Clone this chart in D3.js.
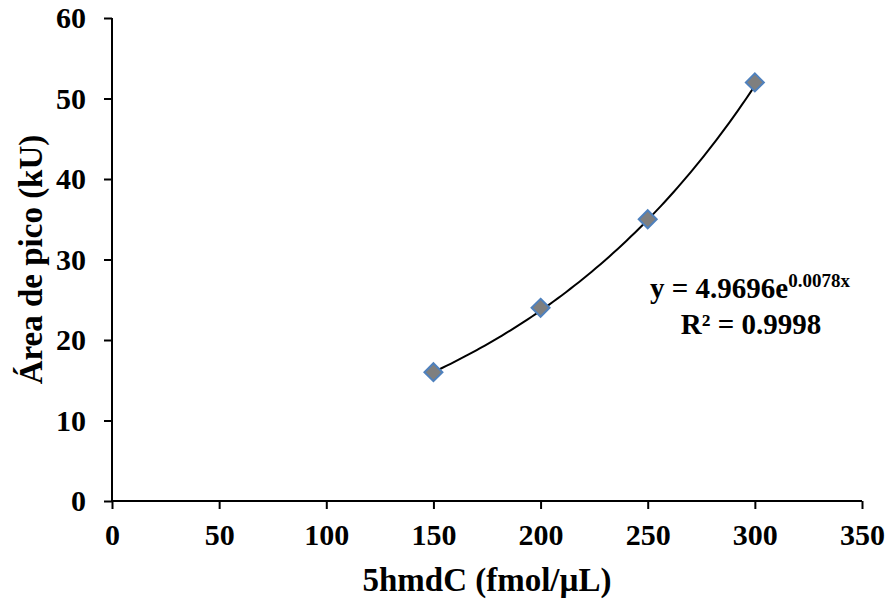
<!DOCTYPE html>
<html>
<head>
<meta charset="utf-8">
<script src="https://cdn.jsdelivr.net/npm/d3@7"></script>
<style>
  body { margin: 0; background: #fff; }
  text { font-family: "Liberation Serif", "Times New Roman", serif; font-weight: bold; }
</style>
</head>
<body>
<div id="chart"></div>
<script>
// data
var conc = [150, 200, 250, 300];
var area = [16, 24, 35, 52];
var xTicks = [0, 50, 100, 150, 200, 250, 300, 350];
var yTicks = [0, 10, 20, 30, 40, 50, 60];
// exponential trendline y = a e^(b x)
var fitA = 4.9696, fitB = 0.0078, fitR2 = "0.9998";

var width = 890, height = 604;
var margin = {top: 18, right: 28, bottom: 103, left: 112};

var svg = d3.select("#chart").append("svg")
    .attr("width", width)
    .attr("height", height);

var x = d3.scaleLinear().domain([0, 350]).range([margin.left, width - margin.right]);
var y = d3.scaleLinear().domain([0, 60]).range([height - margin.bottom, margin.top]);

// x axis
var xAxis = svg.append("g")
    .attr("transform", "translate(0," + y(0) + ")")
    .call(d3.axisBottom(x).tickValues(xTicks).tickSize(8).tickPadding(15).tickSizeOuter(0));
// y axis
var yAxis = svg.append("g")
    .attr("transform", "translate(" + x(0) + ",0)")
    .call(d3.axisLeft(y).tickValues(yTicks).tickSize(8).tickPadding(18).tickSizeOuter(0));

[xAxis, yAxis].forEach(function (g) {
    g.attr("font-size", null).attr("font-family", null);
    g.selectAll("path, line").attr("stroke", "#000").attr("stroke-width", 2);
    g.selectAll("text").attr("font-size", 30).attr("fill", "#000");
});
xAxis.select(".domain").attr("d", "M" + x(0) + ",0H" + x(350));
yAxis.select(".domain").attr("d", "M0," + y(60) + "V" + y(0));

// trendline
var fitX = d3.range(150, 300.01, 2);
svg.append("path")
    .datum(fitX)
    .attr("fill", "none")
    .attr("stroke", "#000")
    .attr("stroke-width", 2)
    .attr("d", d3.line()
        .x(d => x(d))
        .y(d => y(fitA * Math.exp(fitB * d))));

// markers
svg.selectAll(".pt")
    .data(conc)
    .enter().append("path")
    .attr("class", "pt")
    .attr("transform", (d, i) => "translate(" + x(d) + "," + y(area[i]) + ")")
    .attr("d", "M0,-9L9,0L0,9L-9,0Z")
    .attr("fill", "#7f7f7f")
    .attr("stroke", "#4f81bd")
    .attr("stroke-width", 2);

// equation
var eq = svg.append("text")
    .attr("x", 750)
    .attr("y", 298)
    .attr("text-anchor", "middle")
    .attr("font-size", 29);
eq.append("tspan").text("y = " + fitA + "e");
eq.append("tspan").attr("font-size", 19).attr("dy", -11).text(fitB + "x");
svg.append("text")
    .attr("x", 751)
    .attr("y", 334)
    .attr("text-anchor", "middle")
    .attr("font-size", 29)
    .text("R² = " + fitR2);

// axis titles
svg.append("text")
    .attr("x", (x(0) + x(350)) / 2)
    .attr("y", 591)
    .attr("text-anchor", "middle")
    .attr("font-size", 33)
    .text("5hmdC (fmol/µL)");
svg.append("text")
    .attr("transform", "translate(42," + (y(30)) + ") rotate(-90)")
    .attr("text-anchor", "middle")
    .attr("font-size", 33)
    .text("Área de pico (kU)");
</script>
</body>
</html>
